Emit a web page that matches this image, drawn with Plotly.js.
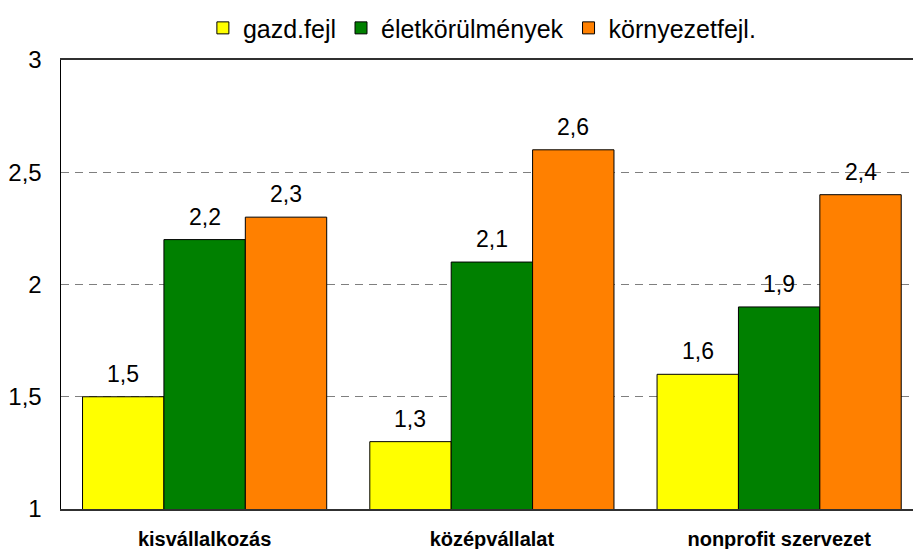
<!DOCTYPE html>
<html>
<head>
<meta charset="utf-8">
<script src="https://cdn.plot.ly/plotly-3.0.1.min.js"></script>
<style>html,body{margin:0;padding:0;overflow:hidden;background:#fff;}#chart{width:913px;height:549px;}</style>
</head>
<body>
<div id="chart"></div>
<script>
const categories = ["kisvállalkozás", "középvállalat", "nonprofit szervezet"];
const seriesNames = ["gazd.fejl", "életkörülmények", "környezetfejl."];
const gazdFejl = [1.5, 1.3, 1.6];
const eletkorulmenyek = [2.2, 2.1, 1.9];
const kornyezetFejl = [2.3, 2.6, 2.4];
const yTickVals = [1, 1.5, 2, 2.5, 3];
const yTickText = ["1", "1,5", "2", "2,5", "3"];

const seriesValues = [gazdFejl, eletkorulmenyek, kornyezetFejl];
const colors = ["#FFFF00", "#008000", "#FF8000"];
const FONT = "Liberation Sans, Arial, sans-serif";
const bargap = 0.15;

const traces = seriesValues.map((vals, i) => ({
  type: "bar",
  name: seriesNames[i],
  x: categories,
  y: vals,
  marker: {color: colors[i], line: {color: "#000", width: 1}},
  hoverinfo: "skip"
}));

const barW = (1 - bargap) / seriesValues.length;
const annotations = [];
seriesValues.forEach((vals, s) => {
  vals.forEach((v, c) => {
    annotations.push({
      x: c + (s - (seriesValues.length - 1) / 2) * barW,
      y: v,
      xref: "x", yref: "y",
      text: v.toFixed(1).replace(".", ","),
      showarrow: false,
      yanchor: "bottom",
      yshift: 8,
      font: {family: FONT, size: 23, color: "#000"}
    });
  });
});

const layout = {
  width: 913, height: 549,
  margin: {l: 61, r: 0, t: 60, b: 40, pad: 0},
  paper_bgcolor: "#fff", plot_bgcolor: "#fff",
  separators: ",.",
  barmode: "group",
  bargap: bargap,
  bargroupgap: 0,
  font: {family: FONT, color: "#000"},
  showlegend: true,
  legend: {
    orientation: "h", x: 0.494, xanchor: "center", y: 1.071, yanchor: "middle",
    font: {family: FONT, size: 25, color: "#000"},
    itemclick: false, traceorder: "normal", tracegroupgap: 0, itemwidth: 30
  },
  xaxis: {
    type: "category",
    range: [-0.5, 2.466],
    showline: true, linecolor: "#303030", linewidth: 2, mirror: true,
    ticks: "", showgrid: false, zeroline: false,
    tickfont: {family: FONT, size: 20, color: "#000", weight: 700},
    ticklabelstandoff: 11
  },
  yaxis: {
    range: [1, 3],
    tickvals: yTickVals, ticktext: yTickText,
    showline: true, linecolor: "#000", linewidth: 1.5,
    ticks: "", zeroline: false,
    showgrid: true, gridcolor: "#7f7f7f", gridwidth: 1, griddash: "8px,6px",
    tickfont: {family: FONT, size: 24, color: "#000"},
    ticklabelstandoff: 13
  },
  annotations: annotations
};

Plotly.newPlot("chart", traces, layout, {displayModeBar: false, staticPlot: true});
</script>
</body>
</html>
